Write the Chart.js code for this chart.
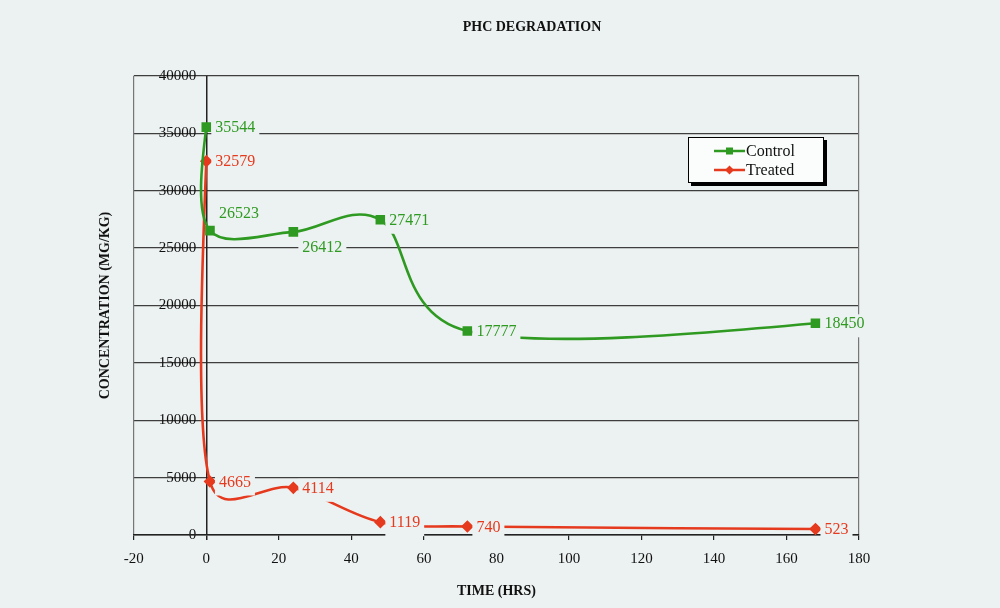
<!DOCTYPE html>
<html>
<head>
<meta charset="utf-8">
<title>PHC Degradation</title>
<script src="https://cdn.jsdelivr.net/npm/chart.js@4.4.1/dist/chart.umd.min.js"></script>
<style>
  html, body { margin: 0; padding: 0; background: #ecf2f1; }
  #wrap { width: 1000px; height: 608px; }
</style>
</head>
<body>
<div id="wrap"><canvas id="chart" width="1000" height="608"></canvas></div>
<script>
// Sampling times (hours) and measured PHC concentrations (mg/kg)
const hours   = [0, 1, 24, 48, 72, 168];
const control = [35544, 26523, 26412, 27471, 17777, 18450];
const treated = [32579, 4665, 4114, 1119, 740, 523];

// Axis tick values
const xTicks = [-20, 0, 20, 40, 60, 80, 100, 120, 140, 160, 180];
const yTicks = [0, 5000, 10000, 15000, 20000, 25000, 30000, 35000, 40000];

// Label nudges [dx, dy] in pixels for labels that were moved off their points
const labelNudge = {
  Control: [[0, 0], [0, -18], [0, 15], [0, 0], [0, 0], [0, 0]],
  Treated: [[0, 0], [0, 0], [0, 0], [0, 0], [0, 0], [0, 0]]
};

const SERIF = "'Liberation Serif', 'Times New Roman', serif";
const PAPER = '#ecf2f1';
const GREEN = '#2f9a22';
const RED = '#e63a1f';

// Smoothed-line control points: tangent along (next - prev), handle length
// limited to a sixth of that chord or half the adjacent segment.
const smoothCurve = {
  id: 'smoothCurve',
  beforeDatasetDraw(chart, args) {
    const meta = args.meta;
    const pts = meta.data;
    const n = pts.length;
    if (n < 2) return;
    for (let i = 1; i < n - 1; i++) {
      const p = pts[i], a = pts[i - 1], b = pts[i + 1];
      const dx = b.x - a.x, dy = b.y - a.y;
      const d02 = Math.hypot(dx, dy) || 1;
      const d01 = Math.hypot(p.x - a.x, p.y - a.y);
      const d12 = Math.hypot(b.x - p.x, b.y - p.y);
      const ux = dx / d02, uy = dy / d02;
      const back = Math.min(d02 / 6, d01 / 2);
      const fwd = Math.min(d02 / 6, d12 / 2);
      p.cp1x = p.x - ux * back; p.cp1y = p.y - uy * back;
      p.cp2x = p.x + ux * fwd;  p.cp2y = p.y + uy * fwd;
    }
    const f = pts[0], f1 = pts[1];
    f.cp1x = f.x; f.cp1y = f.y;
    f.cp2x = f.x + ((n > 2 ? f1.cp1x : f1.x) - f.x) * 0.4;
    f.cp2y = f.y + ((n > 2 ? f1.cp1y : f1.y) - f.y) * 0.4;
    const l = pts[n - 1], l1 = pts[n - 2];
    l.cp2x = l.x; l.cp2y = l.y;
    l.cp1x = l.x + ((n > 2 ? l1.cp2x : l1.x) - l.x) * 0.4;
    l.cp1y = l.y + ((n > 2 ? l1.cp2y : l1.y) - l.y) * 0.4;
    meta.dataset._pointsUpdated = true;
    meta.dataset._path = undefined;
  }
};

// Value labels on paper-coloured boxes, drawn over the lines
const valueLabels = {
  id: 'valueLabels',
  afterDatasetsDraw(chart) {
    const ctx = chart.ctx;
    ctx.save();
    ctx.font = '16px ' + SERIF;
    ctx.textBaseline = 'middle';
    ctx.textAlign = 'left';
    chart.data.datasets.forEach((ds, di) => {
      const meta = chart.getDatasetMeta(di);
      const nudges = labelNudge[ds.label] || [];
      meta.data.forEach((pt, i) => {
        const text = String(ds.data[i].y);
        const n = nudges[i] || [0, 0];
        const lx = pt.x + 9 + n[0];
        const cy = pt.y + n[1];
        const w = ctx.measureText(text).width;
        ctx.fillStyle = PAPER;
        ctx.fillRect(lx - 4, cy - 9, w + 8, 23);
        ctx.fillStyle = ds.borderColor;
        ctx.fillText(text, lx, cy + 1);
      });
    });
    ctx.restore();
  }
};

// Chart title and boxed legend with drop shadow
const decorations = {
  id: 'decorations',
  afterDraw(chart) {
    const ctx = chart.ctx;
    ctx.save();
    ctx.fillStyle = '#111';
    ctx.font = 'bold 14px ' + SERIF;
    ctx.textAlign = 'center';
    ctx.textBaseline = 'middle';
    ctx.fillText('PHC DEGRADATION', 532, 27);

    const bx = 688, by = 137, bw = 136, bh = 46;
    ctx.fillStyle = '#000';
    ctx.fillRect(bx + 3, by + 3, bw, bh);
    ctx.fillStyle = '#fbfdfc';
    ctx.fillRect(bx, by, bw, bh);
    ctx.strokeStyle = '#000';
    ctx.lineWidth = 1;
    ctx.strokeRect(bx + 0.5, by + 0.5, bw - 1, bh - 1);

    ctx.font = '16px ' + SERIF;
    ctx.textAlign = 'left';
    chart.data.datasets.forEach((ds, i) => {
      const y = 151 + i * 19;
      ctx.strokeStyle = ds.borderColor;
      ctx.lineWidth = 2.5;
      ctx.beginPath();
      ctx.moveTo(714, y);
      ctx.lineTo(745, y);
      ctx.stroke();
      ctx.fillStyle = ds.borderColor;
      if (ds.pointStyle === 'rect') {
        ctx.fillRect(726, y - 3.5, 7, 7);
      } else {
        ctx.beginPath();
        ctx.moveTo(729.5, y - 4.5);
        ctx.lineTo(734, y);
        ctx.lineTo(729.5, y + 4.5);
        ctx.lineTo(725, y);
        ctx.closePath();
        ctx.fill();
      }
      ctx.fillStyle = '#111';
      ctx.fillText(ds.label, 746, y + 1);
    });
    ctx.restore();
  }
};

const toPoints = (vals) => hours.map((h, i) => ({ x: h, y: vals[i] }));

// Y labels sit just left of the vertical axis drawn at x = 0
const Y_LABEL_AT = -2.75;

new Chart(document.getElementById('chart'), {
  type: 'line',
  data: {
    datasets: [
      {
        label: 'Control',
        data: toPoints(control),
        borderColor: GREEN,
        backgroundColor: GREEN,
        borderWidth: 2.6,
        pointStyle: 'rect',
        pointRadius: 5,
        tension: 0.4,
        yAxisID: 'y',
        xAxisID: 'x'
      },
      {
        label: 'Treated',
        data: toPoints(treated),
        borderColor: RED,
        backgroundColor: RED,
        borderWidth: 2.6,
        pointStyle: 'rectRot',
        pointRadius: 4.5,
        tension: 0.4,
        yAxisID: 'y',
        xAxisID: 'x'
      }
    ]
  },
  options: {
    responsive: false,
    animation: false,
    devicePixelRatio: 1,
    layout: { padding: { left: 97, right: 141, top: 76, bottom: 8.6 } },
    plugins: {
      legend: { display: false },
      title: { display: false },
      tooltip: { enabled: false }
    },
    scales: {
      y: {
        type: 'linear',
        axis: 'y',
        position: { x: Y_LABEL_AT },
        min: 0,
        max: 40000,
        afterBuildTicks: (s) => { s.ticks = yTicks.map(v => ({ value: v })); },
        grid: { color: '#3e3e3e', lineWidth: 1.3, drawTicks: false },
        border: { display: false },
        ticks: {
          color: '#111',
          font: { family: SERIF, size: 15 },
          callback: (v) => String(v)
        }
      },
      yTitle: {
        type: 'linear',
        axis: 'y',
        position: 'left',
        min: 0,
        max: 40000,
        ticks: { display: false },
        grid: { display: false, drawTicks: false },
        border: { display: false },
        title: {
          display: true,
          text: 'CONCENTRATION (MG/KG)',
          color: '#111',
          font: { family: SERIF, size: 14, weight: 'bold' },
          padding: { top: 0, bottom: 20 }
        }
      },
      x: {
        type: 'linear',
        position: 'bottom',
        min: -20,
        max: 180,
        afterBuildTicks: (s) => { s.ticks = xTicks.map(v => ({ value: v })); },
        grid: {
          color: (c) => {
            const v = c.tick && c.tick.value;
            if (v === 0) return '#222';
            if (v === -20 || v === 180) return '#777';
            return 'rgba(0,0,0,0)';
          },
          lineWidth: (c) => (c.tick && c.tick.value === 0) ? 1.5 : 1.2,
          tickColor: '#222',
          tickLength: 5
        },
        border: { color: '#222', width: 1.5 },
        ticks: {
          padding: 10,
          color: '#111',
          maxRotation: 0,
          font: { family: SERIF, size: 15 },
          callback: (v) => String(v)
        },
        title: {
          display: true,
          text: 'TIME (HRS)',
          color: '#111',
          font: { family: SERIF, size: 14, weight: 'bold' },
          padding: { top: 4.6, bottom: 0 }
        }
      }
    }
  },
  plugins: [smoothCurve, valueLabels, decorations]
});
</script>
</body>
</html>
